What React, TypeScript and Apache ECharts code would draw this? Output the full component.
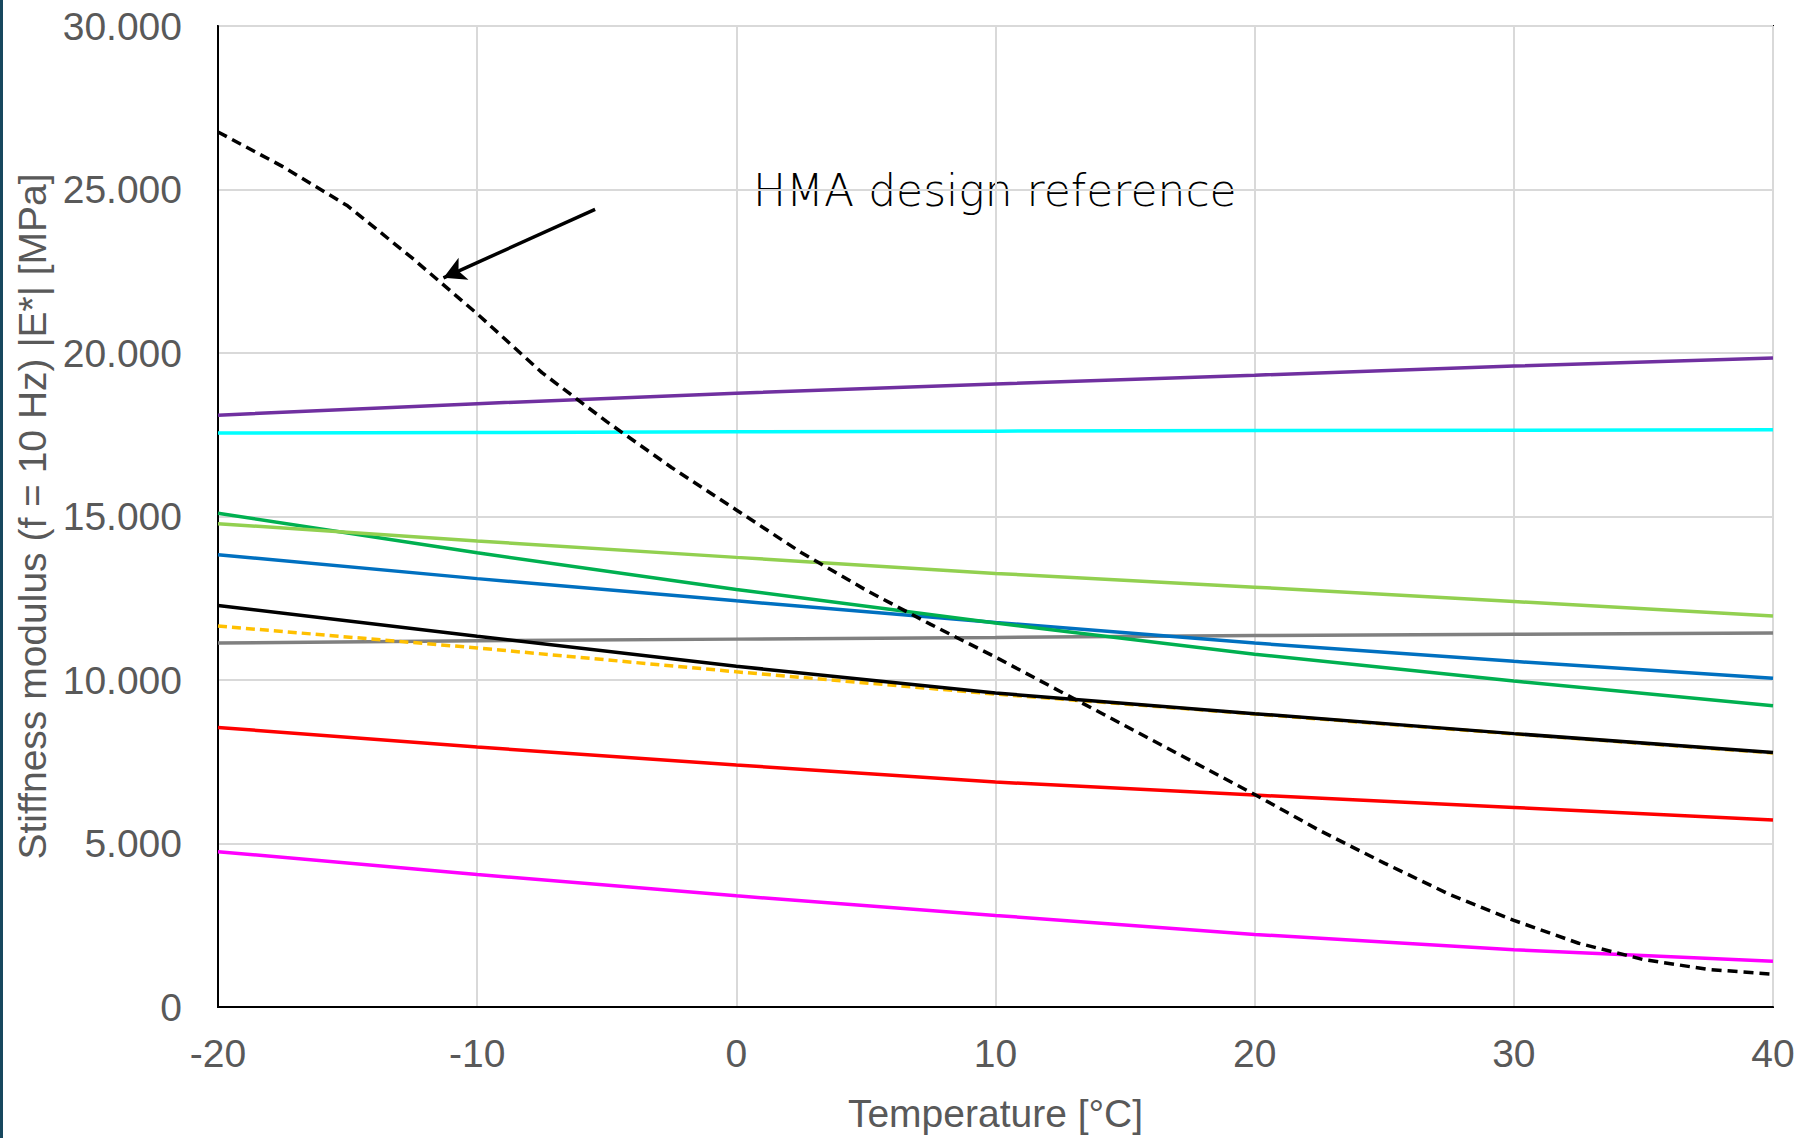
import React, { useEffect, useRef } from "react";
import * as echarts from "echarts";

const temps = [-20, -10, 0, 10, 20, 30, 40];
const purpleVals = [18100, 18450, 18770, 19050, 19320, 19600, 19850];
const cyanVals = [17550, 17570, 17590, 17610, 17630, 17640, 17650];
const greenVals = [15100, 13890, 12770, 11740, 10790, 9970, 9210];
const lightGreenVals = [14780, 14250, 13750, 13260, 12840, 12400, 11960];
const blueVals = [13830, 13100, 12420, 11760, 11130, 10570, 10050];
const blackVals = [12280, 11340, 10420, 9600, 8970, 8360, 7780];
const orangeVals = [11650, 10980, 10250, 9570, 8960, 8350, 7770];
const grayVals = [11130, 11200, 11250, 11300, 11360, 11400, 11440];
const redVals = [8550, 7950, 7400, 6880, 6480, 6100, 5720];
const magentaVals = [4750, 4050, 3400, 2800, 2220, 1750, 1400];

const hmaTemps = [-20, -17.5, -15, -12.5, -10, -7.5, -5, -2.5, 0, 2.5, 5, 7.5, 10, 12.5, 15, 17.5, 20, 22.5, 25, 27.5, 30, 32.5, 35, 37.5, 40];
const hmaVals = [26760, 25700, 24500, 22900, 21200, 19400, 17900, 16500, 15200, 13900, 12750, 11700, 10700, 9650, 8600, 7550, 6500, 5400, 4400, 3450, 2650, 1950, 1450, 1150, 1000];

const xTicks = [-20, -10, 0, 10, 20, 30, 40];
const yTicks = [0, 5000, 10000, 15000, 20000, 25000, 30000];

const annotationText = "HMA design reference";
const arrowFrom = [-5.45, 24390];
const arrowTo = [-11.3, 22300];

const pairs = (xs: number[], ys: number[]) => xs.map((x, i) => [x, ys[i]]);

const fmtY = (v: number) => {
  if (v === 0) return "0";
  const s = Math.round(v).toString();
  return s.replace(/\B(?=(\d{3})+(?!\d))/g, ".");
};

export default function App() {
  const ref = useRef<HTMLDivElement>(null);
  useEffect(() => {
    document.body.style.margin = "0";
    document.documentElement.style.overflow = "hidden";
    if (!ref.current) return;
    const chart = echarts.init(ref.current, null, { renderer: "svg" });
    const lineSeries = (name: string, vals: number[], color: string, z: number, dashed?: number[]) => ({
      name,
      type: "line",
      data: pairs(temps, vals),
      showSymbol: false,
      symbol: "none",
      smooth: false,
      z,
      lineStyle: { color, width: 3.5, type: dashed ? dashed : "solid" },
    });
    chart.setOption({
      animation: false,
      backgroundColor: "#ffffff",
      textStyle: { fontFamily: "Liberation Sans" },
      grid: {
        left: 218,
        top: 26,
        width: 1555,
        height: 990,
        show: true,
        borderColor: "#000",
        borderWidth: 2,
        containLabel: false,
      },
      xAxis: {
        type: "value",
        min: xTicks[0],
        max: xTicks[xTicks.length - 1],
        interval: 10,
        name: "Temperature [°C]",
        nameLocation: "middle",
        nameGap: 87,
        nameTextStyle: { fontSize: 39, color: "#595959", fontFamily: "Liberation Sans" },
        axisLine: { show: true, onZero: false, lineStyle: { color: "#000", width: 2 } },
        axisTick: { show: false },
        axisLabel: { fontSize: 39, color: "#595959", margin: 27, fontFamily: "Liberation Sans" },
        splitLine: { show: true, lineStyle: { color: "#d9d9d9", width: 2 } },
      },
      yAxis: {
        type: "value",
        min: yTicks[0],
        max: yTicks[yTicks.length - 1],
        interval: 5000,
        name: "Stiffness modulus (f = 10 Hz) |E*| [MPa]",
        nameLocation: "middle",
        nameGap: 186,
        nameRotate: 90,
        nameTextStyle: { fontSize: 39, color: "#595959", fontFamily: "Liberation Sans", verticalAlign: "middle" },
        axisLine: { show: true, onZero: false, lineStyle: { color: "#000", width: 2 } },
        axisTick: { show: false },
        axisLabel: { fontSize: 39, color: "#595959", margin: 36, formatter: fmtY, fontFamily: "Liberation Sans" },
        splitLine: { show: true, lineStyle: { color: "#d9d9d9", width: 2 } },
      },
      series: [
        lineSeries("magenta", magentaVals, "#FF00FF", 2),
        lineSeries("red", redVals, "#FF0000", 2),
        lineSeries("gray", grayVals, "#808080", 2),
        lineSeries("orange", orangeVals, "#FFC000", 3, [9, 5]),
        lineSeries("black", blackVals, "#000000", 4),
        lineSeries("blue", blueVals, "#0070C0", 4),
        lineSeries("green", greenVals, "#00B050", 5),
        lineSeries("lightgreen", lightGreenVals, "#92D050", 5),
        lineSeries("cyan", cyanVals, "#00FFFF", 5),
        lineSeries("purple", purpleVals, "#7030A0", 5),
        {
          name: "HMA",
          type: "line",
          data: pairs(hmaTemps, hmaVals),
          showSymbol: false,
          symbol: "none",
          smooth: false,
          z: 6,
          lineStyle: { color: "#000", width: 3.5, type: [10, 6] },
          markLine: {
            silent: true,
            animation: false,
            symbol: ["none", "arrow"],
            symbolSize: [18, 22],
            label: { show: false },
            lineStyle: { color: "#000", width: 3.5, type: "solid" },
            data: [[{ coord: arrowFrom }, { coord: arrowTo }]],
          },
        },
      ],
      graphic: [
        { type: "rect", left: 0, top: 0, shape: { width: 3, height: 1138 }, style: { fill: "#17475e" } },
        {
          type: "text",
          left: 753,
          top: 168,
          style: { text: annotationText, fontSize: 44, fontWeight: 300, fill: "#000", fontFamily: "DejaVu Sans" },
        },
      ],
    });
    return () => chart.dispose();
  }, []);
  return (
    <div style={{ position: "fixed", left: 0, top: 0, width: 1802, height: 1138, overflow: "hidden", background: "#fff" }}>
      <div ref={ref} style={{ width: 1802, height: 1138 }} />
    </div>
  );
}
